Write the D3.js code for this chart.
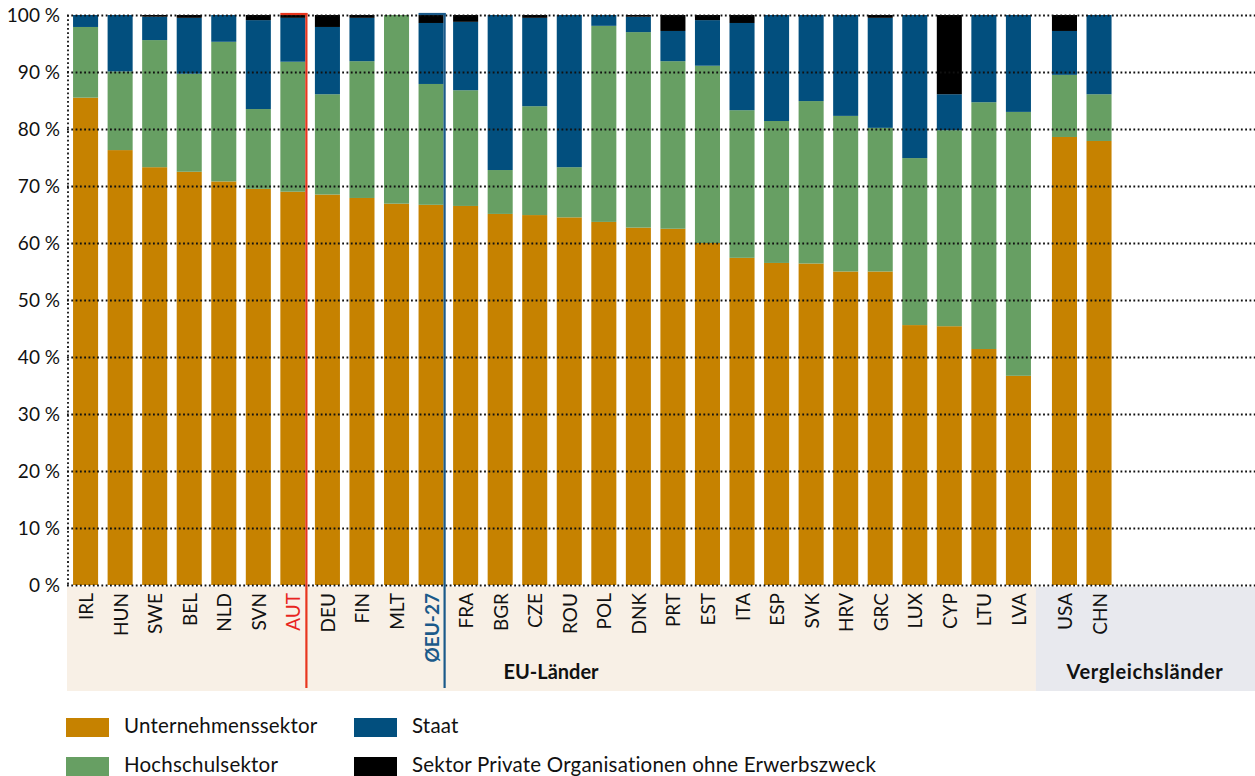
<!DOCTYPE html>
<html>
<head>
<meta charset="utf-8">
<script src="https://cdn.jsdelivr.net/npm/d3@7"></script>
<style>
  body { margin: 0; background: #fff; }
  svg { font-family: Lato, "Open Sans", sans-serif; }
</style>
</head>
<body>
<div id="chart"></div>
<script>
// Anteile der F&E-Ausgaben nach Sektor (%)
var countries = ["IRL","HUN","SWE","BEL","NLD","SVN","AUT","DEU","FIN","MLT","ØEU-27","FRA","BGR","CZE","ROU","POL","DNK","PRT","EST","ITA","ESP","SVK","HRV","GRC","LUX","CYP","LTU","LVA","USA","CHN"];
var groupOf = ["EU","EU","EU","EU","EU","EU","EU","EU","EU","EU","EU","EU","EU","EU","EU","EU","EU","EU","EU","EU","EU","EU","EU","EU","EU","EU","EU","EU","V","V"];
var groupNames = ["EU-Länder", "Vergleichsländer"];
var sectors = ["Unternehmenssektor", "Hochschulsektor", "Staat", "Sektor Private Organisationen ohne Erwerbszweck"];

var unternehmen = [85.5,76.3,73.3,72.5,70.8,69.5,69.0,68.5,67.9,66.9,66.7,66.5,65.1,64.9,64.5,63.7,62.7,62.5,60.0,57.4,56.5,56.4,55.0,55.0,45.6,45.4,41.4,36.7,78.6,77.9];
var hochschul   = [12.4,13.8,22.3,17.2,24.5,14.0,22.8,17.6,24.0,33.1,21.2,20.3,7.7,19.1,8.8,34.4,34.3,29.4,31.1,25.9,24.9,28.5,27.3,25.2,29.3,34.4,43.3,46.3,10.9,8.2];
var staat       = [2.1,9.9,4.1,9.8,4.7,15.6,7.7,11.8,7.6,0,10.7,12.0,27.2,15.5,26.7,1.9,2.7,5.3,8.0,15.3,18.6,15.1,17.7,19.3,25.1,6.3,15.3,17.0,7.7,13.9];
var privat      = [0,0,0.3,0.5,0,0.9,0.5,2.1,0.5,0,1.4,1.2,0,0.5,0,0,0.3,2.8,0.9,1.4,0,0,0,0.5,0,13.9,0,0,2.8,0];

var yTicks = [0,10,20,30,40,50,60,70,80,90,100];

var colors = ["#c68200", "#679f63", "#024f7e", "#000000"];

var W = 1255, H = 776;
var plotLeft = 67, plotRight = 1255, plotTop = 15, plotBottom = 585;
var groupGap = 11.5;

var table = countries.map(function(c, i) {
    return {country: c, group: groupOf[i], s0: unternehmen[i], s1: hochschul[i], s2: staat[i], s3: privat[i]};
});

var stack = d3.stack().keys(["s0","s1","s2","s3"]);
var series = stack(table);

var x = d3.scaleBand()
    .domain(countries)
    .range([68.3, 68.3 + countries.length * 34.55])
    .paddingInner(0.275)
    .paddingOuter(0.1375);

function xPos(d) {
    return x(d.country) + (d.group === "V" ? groupGap : 0);
}

var y = d3.scaleLinear().domain([0, 100]).range([plotBottom, plotTop]);

var svg = d3.select("#chart").append("svg")
    .attr("width", W)
    .attr("height", H);

// Hintergrund der Ländergruppen
var euEnd = x("LVA") + x.bandwidth() + 5;
svg.append("rect")
    .attr("x", plotLeft).attr("y", 587)
    .attr("width", euEnd - plotLeft).attr("height", 104)
    .attr("fill", "#f8f0e6");
svg.append("rect")
    .attr("x", euEnd).attr("y", 587)
    .attr("width", W - euEnd).attr("height", 104)
    .attr("fill", "#e8e9ee");

// Balken
svg.selectAll(".layer")
    .data(series)
    .enter().append("g")
        .attr("class", "layer")
        .attr("fill", function(d, i) { return colors[i]; })
    .selectAll("rect")
    .data(function(d) { return d; })
    .enter().append("rect")
        .attr("x", function(d) { return xPos(d.data); })
        .attr("width", x.bandwidth())
        .attr("y", function(d) { return y(d[1]); })
        .attr("height", function(d) { return Math.max(0, y(d[0]) - y(d[1])); });

// Gitterlinien (gepunktet, über den Balken)
var grid = d3.axisLeft(y)
    .tickValues(yTicks)
    .tickSize(-(plotRight - plotLeft))
    .tickFormat(function(d) { return d + " %"; });

var gAxis = svg.append("g")
    .attr("transform", "translate(" + plotLeft + ",0)")
    .call(grid);
gAxis.select(".domain").remove();
gAxis.selectAll(".tick line")
    .attr("stroke", "#111")
    .attr("stroke-width", 1.8)
    .attr("stroke-dasharray", "1.8,2.5");
gAxis.selectAll(".tick text")
    .attr("x", -7)
    .attr("fill", "#111")
    .style("font-size", "19px")
    .style("font-family", "Lato, sans-serif");

svg.append("line")
    .attr("x1", plotLeft + 1).attr("x2", plotLeft + 1)
    .attr("y1", plotTop).attr("y2", plotBottom)
    .attr("stroke", "#111")
    .attr("stroke-width", 1.8)
    .attr("stroke-dasharray", "1.8,2.5");

// Markierung AUT und EU-27
var marks = [{country: "AUT", color: "#e8361e"}, {country: "ØEU-27", color: "#1b5a8a"}];
marks.forEach(function(m) {
    var x0 = x(m.country), x1 = x0 + x.bandwidth() + 1;
    svg.append("line")
        .attr("x1", x0).attr("x2", x1 + 1)
        .attr("y1", plotTop - 1).attr("y2", plotTop - 1)
        .attr("stroke", m.color).attr("stroke-width", 2.2);
    svg.append("line")
        .attr("x1", x1).attr("x2", x1)
        .attr("y1", plotTop - 2).attr("y2", 688)
        .attr("stroke", m.color).attr("stroke-width", 2.2);
});

// Länderbeschriftung
svg.selectAll(".clabel")
    .data(table)
    .enter().append("text")
        .attr("class", "clabel")
        .attr("transform", function(d) {
            return "translate(" + (xPos(d) + x.bandwidth() / 2) + ",593) rotate(-90)";
        })
        .attr("text-anchor", "end")
        .attr("dominant-baseline", "central")
        .style("font-size", "19px")
        .style("font-weight", function(d) { return d.country === "ØEU-27" ? "bold" : "normal"; })
        .attr("fill", function(d) {
            if (d.country === "AUT") { return "#e8251f"; }
            else if (d.country === "ØEU-27") { return "#1b5a8a"; }
            else { return "#111"; }
        })
        .text(function(d) { return d.country; });

// Gruppenbeschriftung
svg.append("text")
    .attr("x", 551).attr("y", 679)
    .attr("text-anchor", "middle")
    .style("font-size", "20px").style("font-weight", "bold")
    .attr("fill", "#111")
    .text(groupNames[0]);
svg.append("text")
    .attr("x", 1145).attr("y", 679)
    .attr("text-anchor", "middle")
    .style("font-size", "20px").style("font-weight", "bold")
    .style("letter-spacing", "0.6px")
    .attr("fill", "#111")
    .text(groupNames[1]);

// Legende
var legendPos = [[66, 718], [66, 757], [354, 718], [354, 757]];
var order = [0, 1, 2, 3];
var legend = svg.selectAll(".legend")
    .data(order)
    .enter().append("g")
        .attr("class", "legend")
        .attr("transform", function(d) {
            return "translate(" + legendPos[d][0] + "," + legendPos[d][1] + ")";
        });
legend.append("rect")
    .attr("width", 43).attr("height", 19)
    .attr("fill", function(d) { return colors[d]; });
legend.append("text")
    .attr("x", 58).attr("y", 15)
    .style("font-size", "20.5px")
    .style("letter-spacing", "0.2px")
    .attr("fill", "#111")
    .text(function(d) { return sectors[d]; });
</script>
</body>
</html>
